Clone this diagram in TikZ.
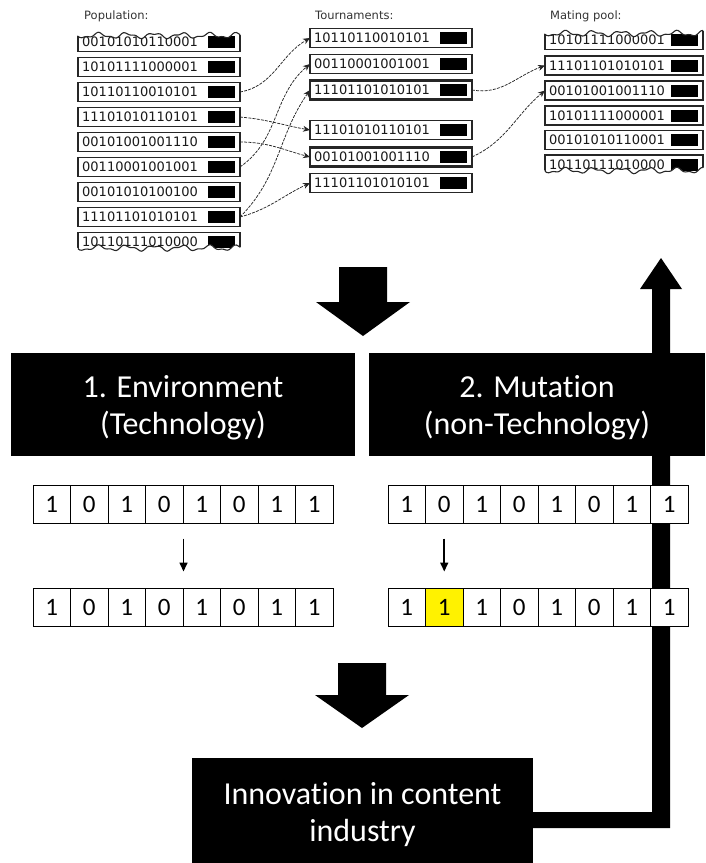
\documentclass[tikz,border=0pt]{standalone}
\usepackage{fontspec}
\setmainfont{Carlito}[Ligatures={NoCommon,NoContextual}]
\newfontfamily\djv{DejaVu Sans}
\usetikzlibrary{arrows.meta}
\newcommand\genrow[6]{% name, left x, center y, width, bits, style
  \node[#6, minimum width=#4pt, anchor=west] (#1) at (#2,#3) {};
  \node[bits] (#1t) at ([xshift=4pt]#1.west) {#5};
  \fill (#2+#4-5-27,#3-6) rectangle (#2+#4-5,#3+6);
}
\newcommand\torn[4]{% left x, length, wave y, side (+9 below / -9 above)
  \fill[white] plot[domain=-3:#2+3, samples=90, smooth] ({#1+\x}, {#3+2.2*sin(13*\x)+1.1*sin(29*\x+40)}) -- ({#1+#2+3},{#3+#4}) -- ({#1-3},{#3+#4}) -- cycle;
  \draw[line width=1.1pt, black!85] plot[domain=0:#2, samples=90, smooth] ({#1+\x}, {#3+2.2*sin(13*\x)+1.1*sin(29*\x+40)});
}
\begin{document}
\begin{tikzpicture}[x=1pt,y=-1pt,
  rowbox/.style={draw=black!85, line width=1.3pt, fill=white, minimum height=19pt, inner sep=0pt, outer sep=0pt},
  winbox/.style={rowbox, line width=2.6pt},
  bits/.style={font=\djv\fontsize{13pt}{13pt}\selectfont, anchor=west, inner sep=0pt, text=black!90},
  collabel/.style={font=\djv\fontsize{11.5pt}{12pt}\selectfont, anchor=base west, inner sep=0pt, text=black!80},
  link/.style={draw=black!85, line width=0.75pt, dash pattern=on 3pt off 1.2pt, -{Stealth[length=7pt,width=6pt]}},
  blackbox/.style={fill=black, draw=none, inner sep=0pt},
  boxtext/.style={text=white, align=center, inner sep=0pt, font=\fontsize{32pt}{37pt}\selectfont},
  cell/.style={draw=black, line width=1pt, fill=white, minimum width=37.5pt, minimum height=38pt, inner sep=0pt, font=\fontsize{25pt}{25pt}\selectfont},
  smallarr/.style={line width=1.6pt, -{Triangle[length=9pt,width=8pt]}},
]
\useasboundingbox (0,0) rectangle (705,863);

% ---------- top: selection ----------
\node[collabel] (lpop) at (84,19) {Population:};
\node[collabel] (ltour) at (315,19) {Tournaments:};
\node[collabel] (lmate) at (550,19) {Mating pool:};

\genrow{P1}{78}{42}{162}{00101010110001}{rowbox}
\genrow{P2}{78}{67}{162}{10101111000001}{rowbox}
\genrow{P3}{78}{92}{162}{10110110010101}{rowbox}
\genrow{P4}{78}{117}{162}{11101010110101}{rowbox}
\genrow{P5}{78}{142}{162}{00101001001110}{rowbox}
\genrow{P6}{78}{167}{162}{00110001001001}{rowbox}
\genrow{P7}{78}{192}{162}{00101010100100}{rowbox}
\genrow{P8}{78}{217}{162}{11101101010101}{rowbox}
\genrow{P9}{78}{242}{162}{10110111010000}{rowbox}

\genrow{T1}{310}{38}{162}{10110110010101}{rowbox}
\genrow{T2}{310}{64}{162}{00110001001001}{rowbox}
\genrow{T3}{310}{90}{162}{11101101010101}{winbox}
\genrow{T4}{310}{130}{162}{11101010110101}{rowbox}
\genrow{T5}{310}{157}{162}{00101001001110}{winbox}
\genrow{T6}{310}{183}{162}{11101101010101}{rowbox}

\genrow{M1}{545}{40}{158}{10101111000001}{rowbox}
\genrow{M2}{545}{65.5}{158}{11101101010101}{rowbox}
\genrow{M3}{545}{90.5}{158}{00101001001110}{rowbox}
\genrow{M4}{545}{115.5}{158}{10101111000001}{rowbox}
\genrow{M5}{545}{140}{158}{00101010110001}{rowbox}
\genrow{M6}{545}{164.5}{158}{10110111010000}{rowbox}

% torn edges
\torn{78}{162}{35.5}{-9}
\torn{78}{162}{248}{9}
\torn{545}{158}{33.5}{-9}
\torn{545}{158}{170.5}{9}

% tournament links
\draw[link] (P3.east) to[out=10, in=210] (T1.west);
\draw[link] (P6.east) to[out=35, in=220] (T2.west);
\draw[link] (P8.east) to[out=45, in=235] (T3.west);
\draw[link] (P8.east) to[out=15, in=205] (T6.west);
\draw[link] (P4.east) to[out=-5, in=170] (T4.west);
\draw[link] (P5.east) to[out=0, in=165] (T5.west);
\draw[link] (T3.east) to[out=-10, in=200] (M2.west);
\draw[link] (T5.east) to[out=25, in=220] (M3.west);

% ---------- bottom ----------
\node[blackbox, minimum width=344pt, minimum height=103pt] (env) at (183,404) {};
\node[boxtext] (envt) at ([yshift=-4pt]env.center) {1. Environment\\(Technology)};
\node[blackbox, minimum width=336pt, minimum height=103pt] (mut) at (537,404) {};
\node[boxtext] (mutt) at ([yshift=-4pt]mut.center) {2. Mutat\kern0pt ion\\(non-Technology)};
\node[blackbox, minimum width=341pt, minimum height=105pt] (inno) at (362.5,810.5) {};
\node[boxtext] (innot) at ([yshift=-4pt]inno.center) {Innovat\kern0pt ion in content\\industry};

% block arrows
\fill (339,267) -- (387,267) -- (387,302) -- (410,302) -- (363,336) -- (316,302) -- (339,302) -- cycle;
\fill (338,663) -- (386,663) -- (386,695) -- (409,695) -- (362,728) -- (315,695) -- (338,695) -- cycle;
\fill (inno.east |- {(0,812)}) -- (652,812) -- (652,289) -- (640,289) -- (661,258) -- (682,289) -- (670,289) -- (670,828) -- (inno.east |- {(0,828)}) -- cycle;

% bit strings
\foreach \b [count=\i] in {1,0,1,0,1,0,1,1}
  \node[cell] (La\i) at ({33+37.5*(\i-0.5)},504) {\b};
\foreach \b [count=\i] in {1,0,1,0,1,0,1,1}
  \node[cell] (Lb\i) at ({33+37.5*(\i-0.5)},607) {\b};
\foreach \b [count=\i] in {1,0,1,0,1,0,1,1}
  \node[cell] (Ra\i) at ({388+37.5*(\i-0.5)},504) {\b};
\foreach \b/\c [count=\i] in {1/white,1/yellow,1/white,0/white,1/white,0/white,1/white,1/white}
  \node[cell, fill=\c] (Rb\i) at ({388+37.5*(\i-0.5)},607) {\b};

\draw[smallarr, shorten <=15pt, shorten >=16pt] (La4.south east) -- (Lb4.north east);
\draw[smallarr, shorten <=15pt, shorten >=16pt] (Ra2.south) -- (Rb2.north);
\end{tikzpicture}
\end{document}
